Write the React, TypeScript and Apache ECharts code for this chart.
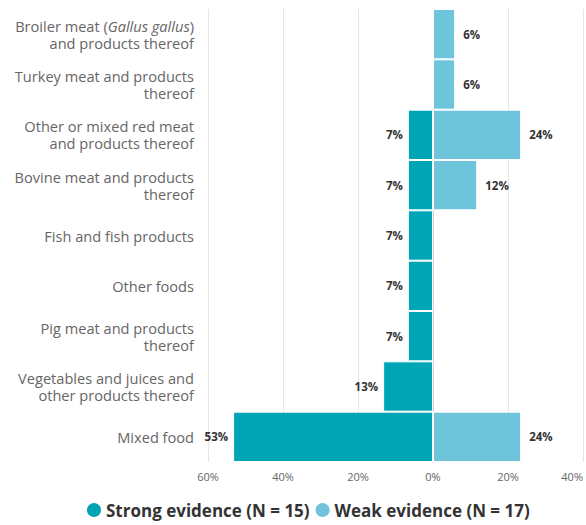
import React, { useEffect, useRef } from "react";
import * as echarts from "echarts";

const categories = [
  "Broiler meat ({i|Gallus gallus})\nand products thereof",
  "Turkey meat and products\nthereof",
  "Other or mixed red meat\nand products thereof",
  "Bovine meat and products\nthereof",
  "Fish and fish products",
  "Other foods",
  "Pig meat and products\nthereof",
  "Vegetables and juices and\nother products thereof",
  "Mixed food",
];
const strongValues = [null, null, 6.7, 6.7, 6.7, 6.7, 6.7, 13.3, 53.3];
const weakValues = [5.9, 5.9, 23.5, 11.8, null, null, null, null, 23.5];
const seriesNames = ["Strong evidence (N = 15)", "Weak evidence (N = 17)"];
const xTicks = [-60, -40, -20, 0, 20, 40];

export default function App() {
  const ref = useRef<HTMLDivElement>(null);
  useEffect(() => {
    if (!ref.current) return;
    const chart = echarts.init(ref.current, undefined, { renderer: "svg" });
    const font = "Open Sans";
    const labelFmt = (p: any) => (p.value == null ? "" : Math.round(Math.abs(p.value)) + "%");
    chart.setOption({
      animation: false,
      textStyle: { fontFamily: font },
      grid: { left: 208, right: 3, top: 9, bottom: 63, containLabel: false },
      legend: {
        top: 496,
        left: 80,
        icon: "circle",
        itemWidth: 16,
        itemHeight: 16,
        itemGap: 4,
        textStyle: { fontFamily: font, fontSize: 17, fontWeight: "bold", color: "#333333", padding: [0, 0, 0, -1] },
        data: seriesNames,
      },
      xAxis: {
        type: "value",
        min: xTicks[0],
        max: xTicks[xTicks.length - 1],
        interval: 20,
        axisLine: { show: false },
        axisTick: { show: false },
        splitLine: { lineStyle: { color: "#e6e6e6", width: 1 } },
        axisLabel: {
          color: "#666666",
          fontSize: 11,
          fontFamily: font,
          margin: 9,
          alignMaxLabel: "right",
          formatter: (v: number) => Math.abs(v) + "%",
        },
      },
      yAxis: {
        type: "category",
        inverse: true,
        data: categories,
        axisLine: { show: true, lineStyle: { color: "#ccd6eb" } },
        axisTick: { show: false },
        axisLabel: {
          color: "#666666",
          fontSize: 14.6,
          fontFamily: font,
          lineHeight: 17,
          margin: 14,
          align: "right",
          rich: {
            i: { fontStyle: "italic", color: "#666666", fontSize: 14.6, fontFamily: font, lineHeight: 17 },
          },
        },
      },
      series: [
        {
          name: seriesNames[0],
          type: "bar",
          stack: "s",
          data: strongValues.map((v) => (v == null ? null : -v)),
          barCategoryGap: "0%",
          itemStyle: { color: "#00a5b5", borderColor: "#ffffff", borderWidth: 1 },
          label: {
            show: true,
            position: "left",
            distance: 5,
            fontSize: 11.5,
            fontWeight: "bold",
            color: "#333333",
            fontFamily: font,
            formatter: labelFmt,
          },
        },
        {
          name: seriesNames[1],
          type: "bar",
          stack: "s",
          data: weakValues,
          barCategoryGap: "0%",
          itemStyle: { color: "#6ec5db", borderColor: "#ffffff", borderWidth: 1 },
          label: {
            show: true,
            position: "right",
            distance: 8,
            fontSize: 11.5,
            fontWeight: "bold",
            color: "#333333",
            fontFamily: font,
            formatter: labelFmt,
          },
        },
      ],
    });
    return () => chart.dispose();
  }, []);
  return (
    <div
      ref={ref}
      style={{ position: "fixed", left: 0, top: 0, width: 586, height: 525, background: "#ffffff" }}
    />
  );
}
